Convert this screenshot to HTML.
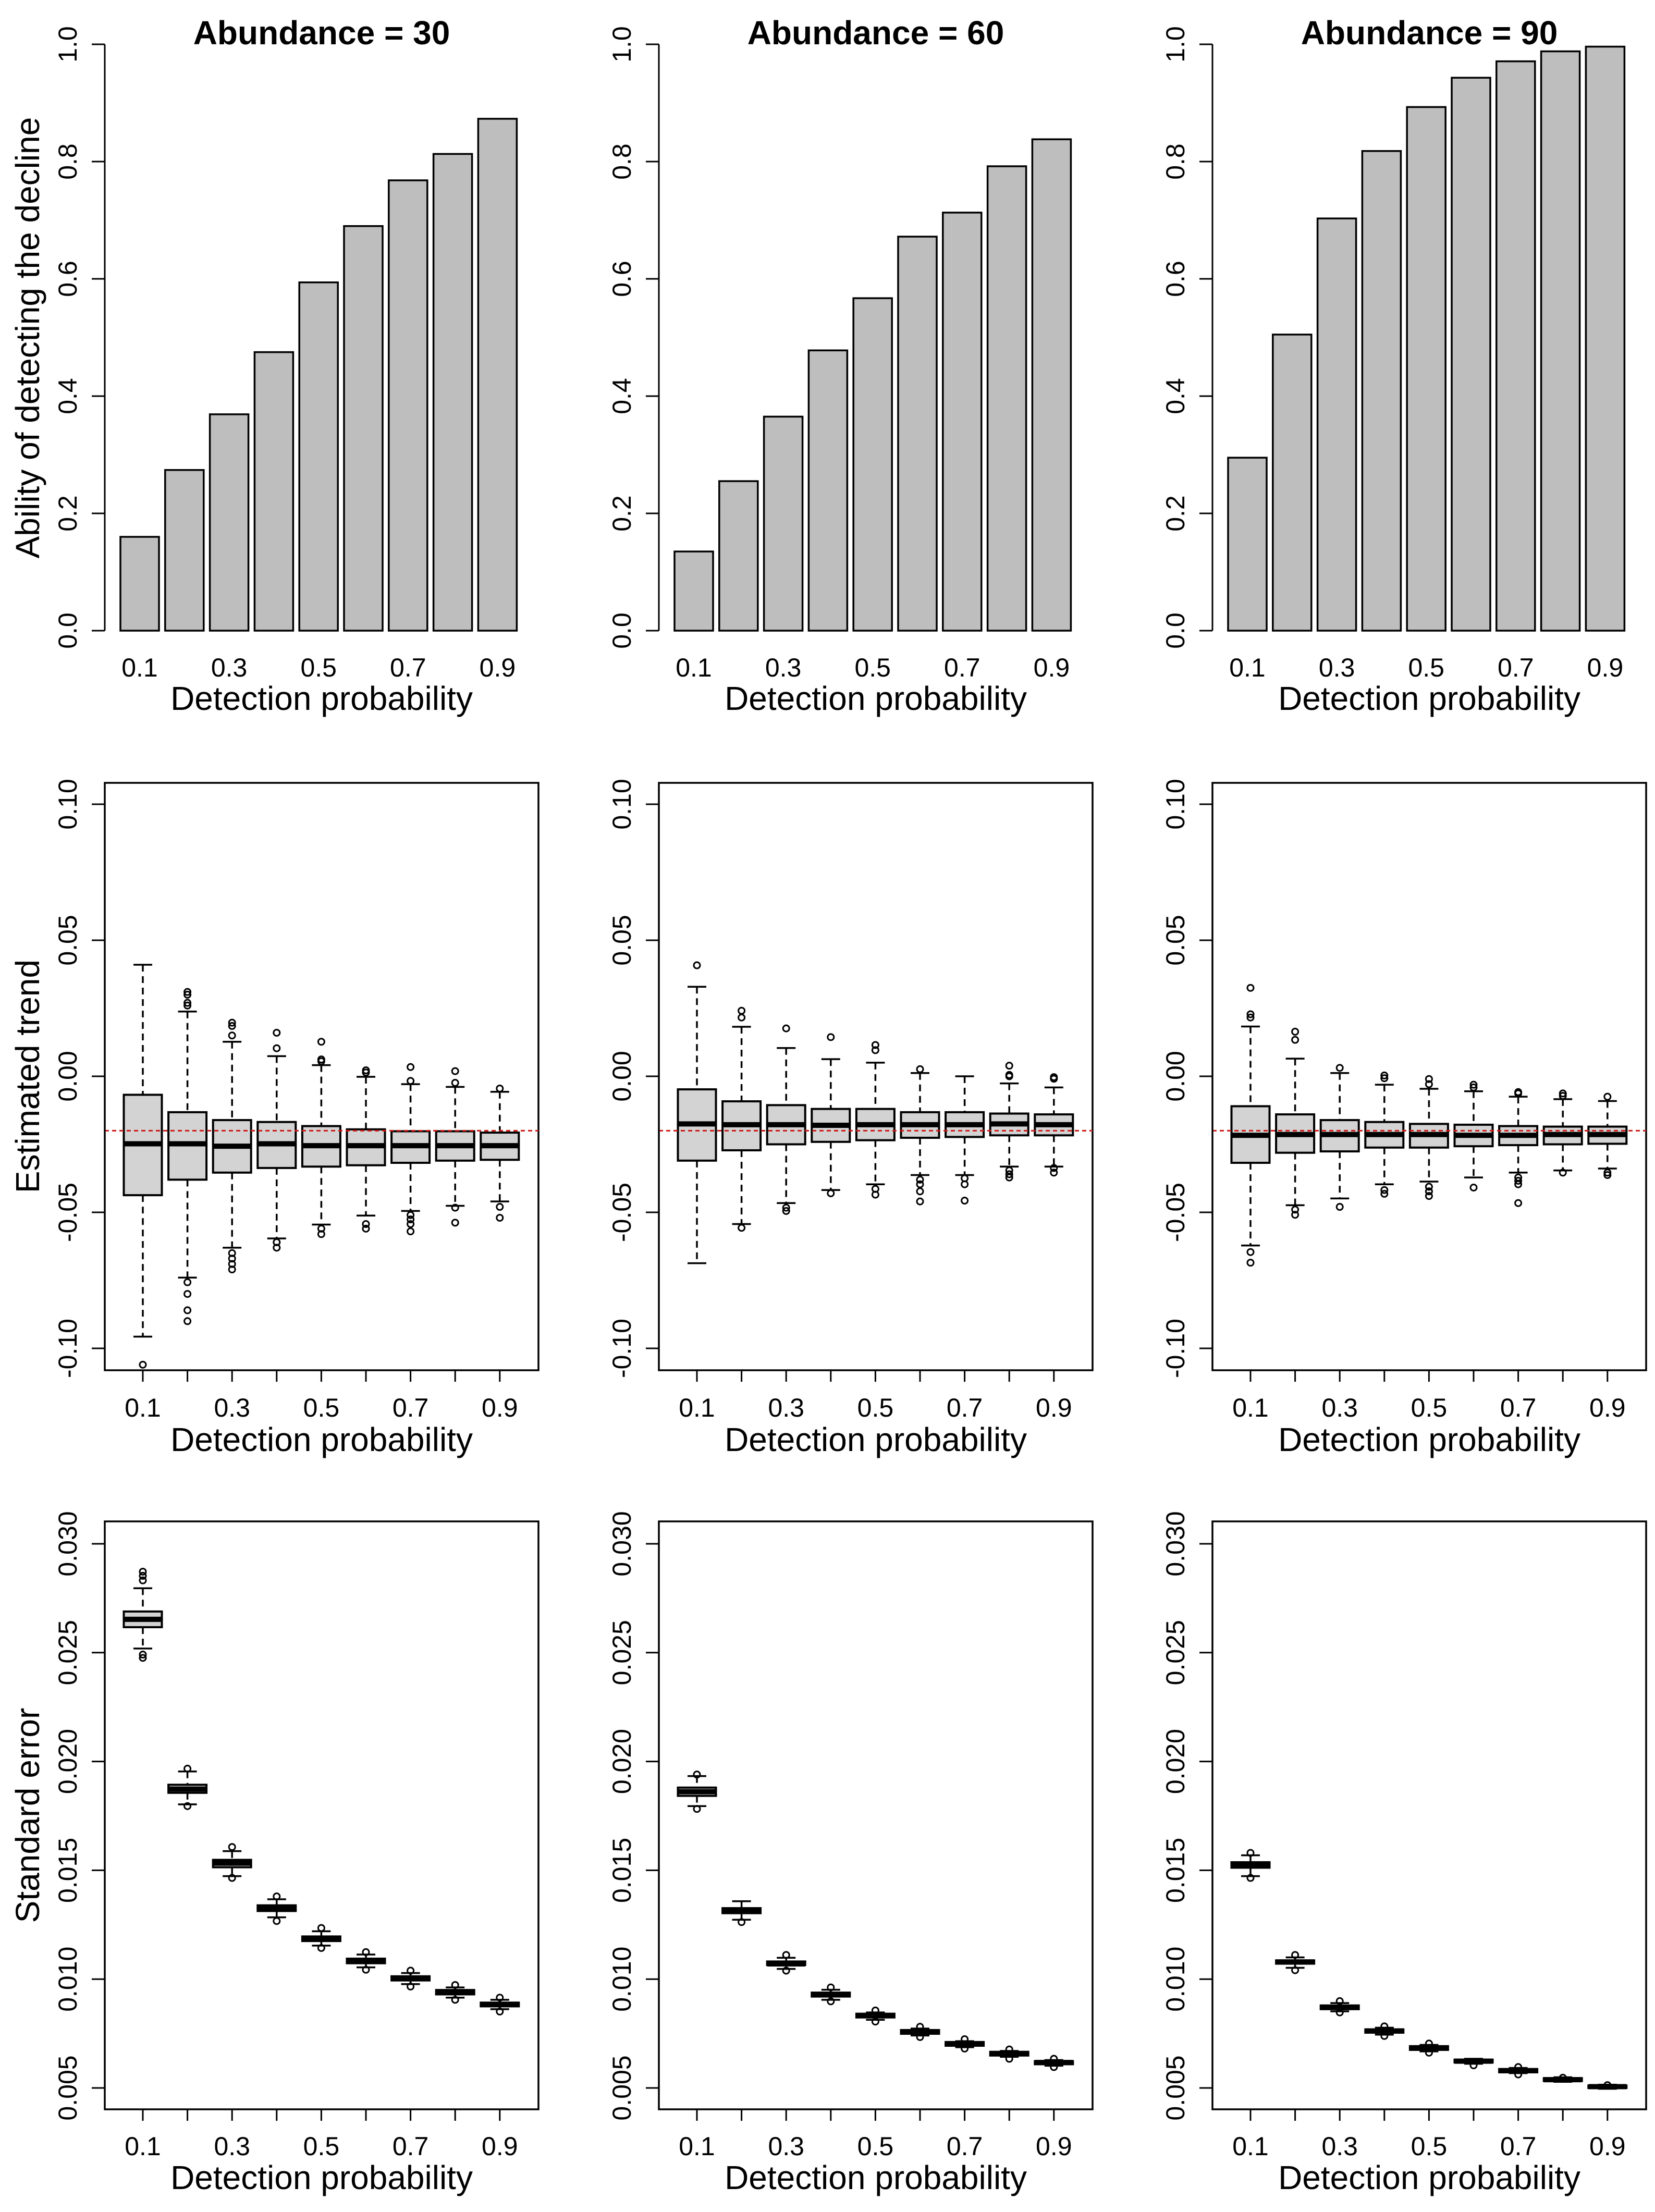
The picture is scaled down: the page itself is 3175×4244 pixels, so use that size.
<!DOCTYPE html>
<html><head><meta charset="utf-8">
<style>
html,body{margin:0;padding:0;background:#fff;}
svg{display:block;font-family:"Liberation Sans",Arial,sans-serif;}
</style></head>
<body>
<svg id="fig" width="3175" height="4244" viewBox="0 0 3175 4244" xmlns="http://www.w3.org/2000/svg"></svg>
<script>
// ---------- data ----------
const categories = ["0.1","0.2","0.3","0.4","0.5","0.6","0.7","0.8","0.9"];
const catLabels = ["0.1","","0.3","","0.5","","0.7","","0.9"];
const abundances = [30, 60, 90];

const power30 = [0.160,0.274,0.369,0.475,0.594,0.690,0.768,0.813,0.873];
const power60 = [0.135,0.255,0.365,0.478,0.567,0.672,0.713,0.792,0.838];
const power90 = [0.295,0.505,0.703,0.818,0.893,0.943,0.971,0.988,0.996];

// trend boxes: [lowerWhisker, q1, median, q3, upperWhisker]
const trend30 = [[-0.0957,-0.0437,-0.0248,-0.0068,0.041],[-0.074,-0.038,-0.0248,-0.0132,0.0238],[-0.063,-0.0354,-0.0257,-0.0161,0.0127],[-0.0596,-0.0337,-0.0248,-0.0168,0.0074],[-0.0545,-0.0332,-0.0255,-0.0183,0.0041],[-0.0512,-0.0327,-0.0255,-0.0195,-0.0002],[-0.0495,-0.0318,-0.0255,-0.0202,-0.0029],[-0.0476,-0.031,-0.0255,-0.0202,-0.0039],[-0.046,-0.0307,-0.0255,-0.0207,-0.0057]];
const trendOut30 = [[-0.106],[0.031,0.030,0.027,0.026,-0.0757,-0.080,-0.086,-0.090],[0.0197,0.0185,0.015,-0.065,-0.067,-0.069,-0.071],[0.016,0.0103,-0.061,-0.063],[0.0127,0.0062,0.0055,-0.056,-0.058],[0.0022,0.0014,-0.0543,-0.056],[0.0034,-0.0017,-0.051,-0.0526,-0.0543,-0.057],[0.0019,-0.0024,-0.0483,-0.0538],[-0.0045,-0.048,-0.052]];
const trend60 = [[-0.0687,-0.031,-0.0175,-0.0048,0.0329],[-0.0543,-0.0272,-0.0178,-0.0092,0.0182],[-0.0466,-0.025,-0.0178,-0.0106,0.0104],[-0.0418,-0.0241,-0.018,-0.012,0.0063],[-0.0397,-0.0235,-0.0178,-0.012,0.005],[-0.0363,-0.0226,-0.0178,-0.0132,0.0012],[-0.0363,-0.0223,-0.0178,-0.0132,0],[-0.0332,-0.0217,-0.0175,-0.0137,-0.0026],[-0.0332,-0.0217,-0.0178,-0.014,-0.0041]];
const trendOut60 = [[0.0408],[0.0241,0.0216,-0.0557],[0.0176,-0.0483,-0.0495],[0.0144,-0.043],[0.0115,0.0096,-0.0414,-0.0435],[0.0026,-0.038,-0.0397,-0.0423,-0.046],[-0.0375,-0.0397,-0.0457],[0.0039,0.0005,0,-0.0346,-0.036,-0.0372],[-0.0003,-0.0009,-0.0337,-0.0354]];
const trend90 = [[-0.0622,-0.0318,-0.0217,-0.011,0.0183],[-0.0474,-0.0281,-0.0214,-0.014,0.0065],[-0.0449,-0.0276,-0.0214,-0.0161,0.0012],[-0.0397,-0.0262,-0.0214,-0.0168,-0.0031],[-0.0387,-0.0262,-0.0214,-0.0175,-0.0046],[-0.0372,-0.0257,-0.0217,-0.0178,-0.0055],[-0.0354,-0.0253,-0.0217,-0.0183,-0.0075],[-0.0346,-0.025,-0.0214,-0.0185,-0.0084],[-0.0339,-0.0248,-0.0214,-0.0185,-0.0091]];
const trendOut90 = [[0.0325,0.0228,0.0216,-0.0646,-0.0685],[0.0164,0.0134,-0.049,-0.0509],[0.0031,-0.048],[0.0003,-0.0007,-0.0418,-0.0432],[-0.001,-0.0029,-0.0406,-0.0423,-0.044],[-0.0031,-0.0041,-0.0409],[-0.0058,-0.0063,-0.0372,-0.0384,-0.0397,-0.0466],[-0.0063,-0.0072,-0.0354],[-0.0075,-0.0354,-0.0363]];

const se30 = [[0.02519,0.02617,0.02653,0.02689,0.02796],[0.01803,0.01856,0.01873,0.01893,0.01954],[0.01473,0.01514,0.01533,0.01548,0.01588],[0.01284,0.01313,0.01328,0.01339,0.01367],[0.01154,0.01175,0.01188,0.01196,0.0122],[0.01054,0.01073,0.01086,0.01094,0.01113],[0.00977,0.00994,0.01005,0.01013,0.01028],[0.00915,0.0093,0.00941,0.0095,0.00962],[0.00862,0.00875,0.00883,0.00892,0.00905]];
const seOut30 = [[0.02872,0.02853,0.02832,0.02491,0.02476],[0.01967,0.01795],[0.01607,0.01465],[0.0138,0.01267],[0.01235,0.01143],[0.01124,0.01043],[0.01039,0.00966],[0.00973,0.00905],[0.00915,0.00851]];
const se60 = [[0.01795,0.01842,0.01861,0.0188,0.01933],[0.01273,0.01303,0.01313,0.01326,0.01358],[0.01047,0.01065,0.0107,0.01081,0.01098],[0.00905,0.0092,0.00928,0.00938,0.00951],[0.00813,0.00824,0.00832,0.00841,0.00847],[0.00741,0.00749,0.00758,0.00766,0.00773],[0.00687,0.00694,0.00702,0.00711,0.00715],[0.00643,0.00649,0.00657,0.00666,0.0067],[0.00602,0.00609,0.00617,0.00623,0.00628]];
const seOut60 = [[0.0194,0.01782],[0.01262],[0.01111,0.01039],[0.00962,0.00898],[0.00856,0.00805],[0.00781,0.00734],[0.00724,0.00681],[0.00677,0.00634],[0.00634,0.00596]];
const se90 = [[0.01473,0.01512,0.01526,0.01537,0.01569],[0.01052,0.01071,0.01079,0.01086,0.011],[0.00852,0.00862,0.00871,0.00879,0.0089],[0.00745,0.00754,0.00762,0.00769,0.00777],[0.00668,0.00675,0.00683,0.00692,0.00698],[0.00611,0.00617,0.00623,0.0063,0.00634],[0.00568,0.00572,0.00579,0.00587,0.00592],[0.00528,0.00532,0.00538,0.00545,0.00549],[0.00496,0.005,0.00506,0.00511,0.00515]];
const seOut90 = [[0.0158,0.01465],[0.01111,0.01041],[0.00899,0.00847],[0.00783,0.00739],[0.00704,0.00662],[0.00604],[0.00596,0.00562],[0.00547],[0.00513]];

const powerTicks = [0, 0.2, 0.4, 0.6, 0.8, 1.0];
const powerTickLabels = ["0.0","0.2","0.4","0.6","0.8","1.0"];
const trendTicks = [-0.10,-0.05,0,0.05,0.10];
const trendTickLabels = ["-0.10","-0.05","0.00","0.05","0.10"];
const seTicks = [0.005,0.010,0.015,0.020,0.025,0.030];
const seTickLabels = ["0.005","0.010","0.015","0.020","0.025","0.030"];
const trueTrend = -0.02;

const powerSeries = [power30, power60, power90];
const trendSeries = [trend30, trend60, trend90];
const trendOutSeries = [trendOut30, trendOut60, trendOut90];
const seSeries = [se30, se60, se90];
const seOutSeries = [seOut30, seOut60, seOut90];

// ---------- drawing ----------
const NS = "http://www.w3.org/2000/svg";
const svg = document.getElementById("fig");
function mk(tag, attrs, parent){
  const e = document.createElementNS(NS, tag);
  for (const k in attrs) e.setAttribute(k, attrs[k]);
  (parent||svg).appendChild(e);
  return e;
}
function txt(str, attrs, parent){ const t = mk("text", attrs, parent); t.textContent = str; return t; }

const colOff = [0, 1063, 2125];
const L = 201, R = 1033;
const TICKFS = 50;
function boxX(i){ return 274 + i*85.6; }
function barLeft(i){ return 231 + i*85.8; }
const yTop = v => 1210 - v*1125;
const yMid = v => 2065 - v*5220;
const yBot = v => 2962 + (0.030 - v)*41760;

function yTicksDraw(g, ox, ticks, labels, yf, name){
  const ax = mk("g", {}, g);
  
  
  mk("line", {x1:ox+L, x2:ox+L, y1:yf(ticks[0]), y2:yf(ticks[ticks.length-1]), stroke:"#000","stroke-width":3}, ax);
  ticks.forEach((t,k)=>{
    const y = yf(t);
    mk("line", {x1:ox+L-25, x2:ox+L, y1:y, y2:y, stroke:"#000","stroke-width":3}, ax);
    const lab = txt(labels[k], {x:ox+147, y:y, "font-size":TICKFS, "text-anchor":"middle", transform:`rotate(-90 ${ox+147} ${y})`}, ax);
    
    
  });
}
function xLabels(g, ox, ly, xfun, tickTop, name){
  const ax = mk("g", {}, g);
  
  
  if (tickTop !== null) {
    categories.forEach((c,i)=>{
      mk("line", {x1:ox+xfun(i), x2:ox+xfun(i), y1:tickTop, y2:tickTop+22, stroke:"#000","stroke-width":3}, ax);
    });
  }
  categories.forEach((c,i)=>{
    if (!catLabels[i]) return;
    const t = txt(catLabels[i], {x:ox+xfun(i), y:ly, "font-size":TICKFS, "text-anchor":"middle"}, ax);
    
    
  });
}

function drawBoxes(g, ox, boxes, outs, yf, name){
  boxes.forEach((b,i)=>{
    const cx = ox + boxX(i);
    const bg = mk("g", {}, g);
    
    
    const [lw,q1,md,q3,uw] = b;
    mk("line", {x1:cx,x2:cx,y1:yf(uw),y2:yf(q3),stroke:"#000","stroke-width":3.5,"stroke-dasharray":"13 9"}, bg);
    mk("line", {x1:cx,x2:cx,y1:yf(q1),y2:yf(lw),stroke:"#000","stroke-width":3.5,"stroke-dasharray":"13 9"}, bg);
    mk("line", {x1:cx-18,x2:cx+18,y1:yf(uw),y2:yf(uw),stroke:"#000","stroke-width":3.5}, bg);
    mk("line", {x1:cx-18,x2:cx+18,y1:yf(lw),y2:yf(lw),stroke:"#000","stroke-width":3.5}, bg);
    const top = yf(q3), bot = yf(q1);
    mk("rect", {x:cx-36.5,y:top,width:73,height:Math.max(bot-top,1),fill:"#d3d3d3",stroke:"#000","stroke-width":4}, bg);
    mk("line", {x1:cx-36.5,x2:cx+36.5,y1:yf(md),y2:yf(md),stroke:"#000","stroke-width":10}, bg);
    outs[i].forEach(v=>{
      const c = mk("circle", {cx:cx, cy:yf(v), r:6, fill:"none", stroke:"#000","stroke-width":3}, bg);
      
      
    });
  });
}

for (let c=0;c<3;c++){
  const ox = colOff[c];
  // ---- top: bar chart ----
  const gt = mk("g", {});
  
  
  const title = txt("Abundance = " + abundances[c], {x:ox+617, y:85, "font-size":64, "font-weight":"bold", "text-anchor":"middle"}, gt);
  
  
  powerSeries[c].forEach((v,i)=>{
    const r = mk("rect", {x:ox+barLeft(i), y:yTop(v), width:74, height:yTop(0)-yTop(v), fill:"#bebebe", stroke:"#000","stroke-width":3.5}, gt);
    
    
  });
  yTicksDraw(gt, ox, powerTicks, powerTickLabels, yTop, 'y-axis');
  xLabels(gt, ox, 1298, i=>barLeft(i)+37, null, 'x-axis');
  const xt1 = txt("Detection probability", {x:ox+617, y:1362, "font-size":64, "text-anchor":"middle"}, gt);
  
  

  // ---- middle: trend boxplots ----
  const gm = mk("g", {});
  
  
  mk("rect", {x:ox+L, y:1502, width:R-L, height:1127, fill:"none", stroke:"#000","stroke-width":3.5}, gm);
  drawBoxes(gm, ox, trendSeries[c], trendOutSeries[c], yMid, 'trend');
  const rl = mk("line", {x1:ox+L, x2:ox+R, y1:yMid(trueTrend), y2:yMid(trueTrend), stroke:"#cc1a1a","stroke-width":3,"stroke-dasharray":"8 6"}, gm);
  
  
  yTicksDraw(gm, ox, trendTicks, trendTickLabels, yMid, 'y-axis');
  xLabels(gm, ox, 2718, boxX, 2629, 'x-axis');
  const xt2 = txt("Detection probability", {x:ox+617, y:2784, "font-size":64, "text-anchor":"middle"}, gm);
  
  

  // ---- bottom: SE boxplots ----
  const gb = mk("g", {});
  
  
  mk("rect", {x:ox+L, y:2919, width:R-L, height:1128, fill:"none", stroke:"#000","stroke-width":3.5}, gb);
  drawBoxes(gb, ox, seSeries[c], seOutSeries[c], yBot, 'se');
  yTicksDraw(gb, ox, seTicks, seTickLabels, yBot, 'y-axis');
  xLabels(gb, ox, 4135, boxX, 4047, 'x-axis');
  const xt3 = txt("Detection probability", {x:ox+617, y:4200, "font-size":64, "text-anchor":"middle"}, gb);
  
  
}

// y-axis titles (first column only)
const yTitles = [["Ability of detecting the decline", 648], ["Estimated trend", 2065], ["Standard error", 3483]];
yTitles.forEach(([s,cy])=>{
  const t = txt(s, {x:75, y:cy, "font-size":64, "text-anchor":"middle", transform:`rotate(-90 75 ${cy})`});
  
  
});
</script>
</body></html>
